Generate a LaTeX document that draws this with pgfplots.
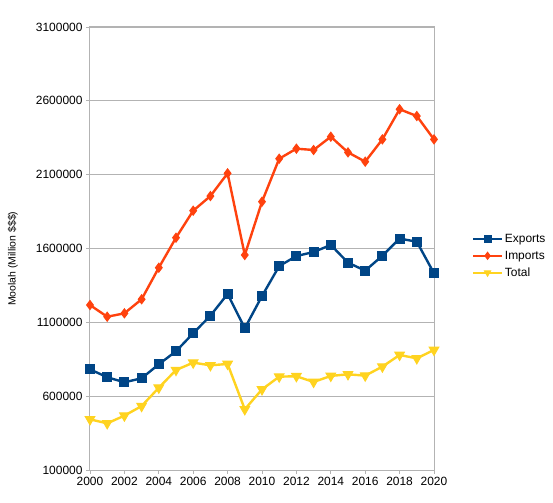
\documentclass[border=0pt]{standalone}
\usepackage{fontspec}
\setmainfont{Liberation Sans}
\usepackage{pgfplots}
\pgfplotsset{compat=1.18}
\definecolor{cexp}{HTML}{004586}
\definecolor{cimp}{HTML}{FF420E}
\definecolor{ctot}{HTML}{FFD320}
\definecolor{gridc}{HTML}{B3B3B3}
\begin{document}
\begin{tikzpicture}
\useasboundingbox (-90bp,-33bp) rectangle (463bp,470bp);
\begin{axis}[
  scale only axis, width=344bp, height=443bp,
  at={(0,0)}, anchor=south west,
  xmin=2000, xmax=2020, ymin=100000, ymax=3100000,
  xtick={2000,2002,2004,2006,2008,2010,2012,2014,2016,2018,2020},
  ytick={100000,600000,1100000,1600000,2100000,2600000,3100000},
  scaled ticks=false,
  /pgf/number format/fixed,
  /pgf/number format/precision=0,
  /pgf/number format/1000 sep={},
  /pgf/number format/assume math mode=true,
  ymajorgrids, grid style={gridc, line width=0.8bp},
  axis line style={gridc, line width=1bp},
  tick style={gridc, line width=0.8bp}, tick align=outside, major tick length=4bp,
  xtick pos=bottom, ytick pos=left,
  ticklabel style={font=\fontsize{12}{14}\selectfont, text=black},
  ylabel={Moolah (Million \$\$\$)},
  ylabel style={font=\fontsize{10.5}{12}\selectfont, at={(axis description cs:-0.224,0.477)}, anchor=center},
  legend style={draw=none, fill=none, at={(1,0.483)}, anchor=west, xshift=35bp,
    font=\fontsize{12}{14}\selectfont, row sep=3bp},
  legend cell align=left,
  legend image code/.code={\draw[mark repeat=2,mark phase=2,mark size=3.5bp] plot coordinates {(0cm,0cm)(0.5cm,0cm)(1cm,0cm)};},
  every axis plot/.append style={line width=2.4bp},
]
\addplot[color=cexp, mark=square*, mark size=4.5bp, mark options={solid, line width=1bp}] coordinates {
(2000,782000)(2001,728000)(2002,694000)(2003,721000)(2004,816000)(2005,904000)
(2006,1026000)(2007,1145000)(2008,1292000)(2009,1060000)(2010,1278000)(2011,1481000)
(2012,1549000)(2013,1576000)(2014,1624000)(2015,1504000)(2016,1450000)(2017,1551000)
(2018,1667000)(2019,1646000)(2020,1432000)};
\addlegendentry{Exports}
\addplot[color=cimp, mark=diamond*, mark size=4.5bp, mark options={solid, line width=1bp}] coordinates {
(2000,1217000)(2001,1138000)(2002,1161000)(2003,1256000)(2004,1470000)(2005,1673000)
(2006,1856000)(2007,1955000)(2008,2109000)(2009,1556000)(2010,1917000)(2011,2208000)
(2012,2276000)(2013,2267000)(2014,2357000)(2015,2251000)(2016,2188000)(2017,2339000)
(2018,2543000)(2019,2497000)(2020,2339000)};
\addlegendentry{Imports}
\addplot[color=ctot, mark=triangle*, mark size=5.5bp, mark options={solid, rotate=180, line width=1bp}] coordinates {
(2000,443000)(2001,416000)(2002,468000)(2003,533000)(2004,657000)(2005,777000)
(2006,827000)(2007,809000)(2008,818000)(2009,511000)(2010,646000)(2011,732000)
(2012,735000)(2013,696000)(2014,737000)(2015,748000)(2016,739000)(2017,800000)
(2018,879000)(2019,856000)(2020,913000)};
\addlegendentry{Total}
\end{axis}
\end{tikzpicture}
\end{document}
